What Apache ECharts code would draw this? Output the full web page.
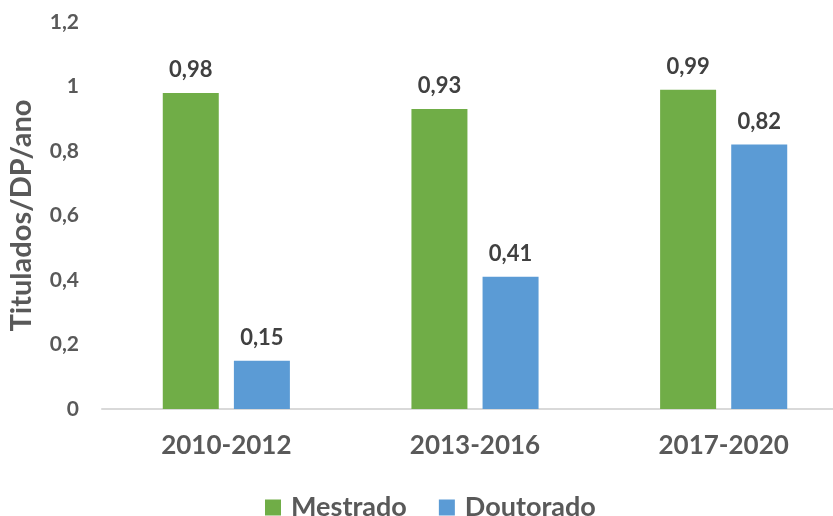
<!DOCTYPE html>
<html>
<head>
<meta charset="utf-8">
<script src="https://cdn.jsdelivr.net/npm/echarts@6/dist/echarts.min.js"></script>
<style>
  html, body { margin: 0; padding: 0; background: #fff; }
  #chart { width: 833px; height: 516px; }
</style>
</head>
<body>
<div id="chart"></div>
<script>
var periodos = ['2010-2012', '2013-2016', '2017-2020'];
var mestrado = [0.98, 0.93, 0.99];
var doutorado = [0.15, 0.41, 0.82];
var nomesSeries = ['Mestrado', 'Doutorado'];

var FONTE = 'Lato, "Liberation Sans", sans-serif';

// virgula decimal
function fmt(v) {
    return String(parseFloat(Number(v).toFixed(2))).replace('.', ',');
}

var chart = echarts.init(document.getElementById('chart'));

var rotulo = {
    show: true,
    position: 'top',
    distance: 12,
    color: '#404040',
    fontSize: 22,
    fontWeight: 'bold',
    fontFamily: FONTE,
    formatter: function (p) { return fmt(p.value); }
};

chart.setOption({
    animation: false,
    grid: { left: 102, top: 22, width: 746, height: 387, outerBoundsMode: 'none', containLabel: false },
    legend: {
        data: nomesSeries,
        top: 494,
        left: 265,
        padding: 0,
        icon: 'rect',
        itemWidth: 16,
        itemHeight: 16,
        itemGap: 32,
        textStyle: { color: '#595959', fontSize: 27, fontWeight: 'bold', fontFamily: FONTE, padding: [0, 0, 0, 5] }
    },
    xAxis: {
        type: 'category',
        data: periodos,
        axisLine: { lineStyle: { color: '#D9D9D9', width: 2 } },
        axisTick: { show: false },
        axisLabel: { color: '#595959', fontSize: 26, fontWeight: 'bold', fontFamily: FONTE, margin: 24 }
    },
    yAxis: {
        type: 'value',
        min: 0,
        max: 1.2,
        interval: 0.2,
        name: 'Titulados/DP/ano',
        nameLocation: 'middle',
        nameGap: 66,
        nameTextStyle: { color: '#595959', fontSize: 29, fontWeight: 'bold', fontFamily: FONTE },
        splitLine: { show: false },
        axisLine: { show: false },
        axisTick: { show: false },
        axisLabel: {
            color: '#595959', fontSize: 21, fontWeight: 'bold', fontFamily: FONTE, margin: 23,
            formatter: function (v) { return fmt(v); }
        }
    },
    series: [
        {
            name: nomesSeries[0],
            type: 'bar',
            data: mestrado,
            barWidth: 56,
            barGap: '27%',
            itemStyle: { color: '#70AD47' },
            label: rotulo
        },
        {
            name: nomesSeries[1],
            type: 'bar',
            data: doutorado,
            barWidth: 56,
            barGap: '27%',
            itemStyle: { color: '#5B9BD5' },
            label: rotulo
        }
    ]
});
</script>
</body>
</html>
